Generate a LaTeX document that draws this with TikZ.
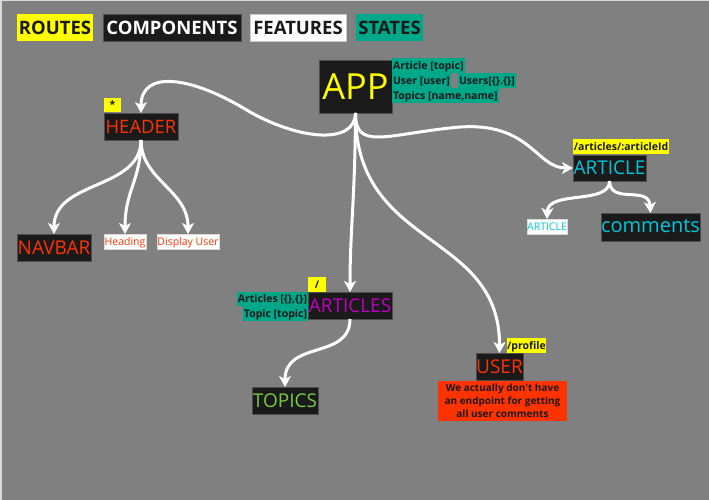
\documentclass[tikz,border=0pt]{standalone}
\usepackage{fontspec}
\setmainfont{Open Sans}
\usetikzlibrary{arrows.meta}
\definecolor{bgc}{HTML}{808080}
\definecolor{cbox}{HTML}{1A1A1A}
\definecolor{cedge}{HTML}{4D4D4D}
\definecolor{yel}{HTML}{FFFF00}
\definecolor{stteal}{HTML}{00A88A}
\definecolor{redt}{HTML}{FF3300}
\definecolor{cyant}{HTML}{00C8DC}
\definecolor{magt}{HTML}{C000C0}
\definecolor{grnt}{HTML}{7AC943}
\definecolor{darkt}{HTML}{1A1A1A}
\begin{document}
\begin{tikzpicture}[x=1pt,y=-1pt,
  bx/.style={anchor=north west, inner sep=0pt, outer sep=0pt},
  comp/.style={bx, fill=cbox, draw=cedge, line width=0.6pt},
  leg/.style={bx, minimum height=27pt, font=\fontsize{18.5}{20}\selectfont\bfseries, text height=13.2pt, text depth=0pt},
  big/.style={comp, font=\fontsize{19}{21}\selectfont, text height=13.6pt, text depth=0pt},
  small/.style={bx, fill=white, draw=black!15, line width=0.4pt, minimum height=15pt, font=\fontsize{10.5}{12}\selectfont, text height=7.5pt, text depth=0pt},
  state/.style={bx, fill=stteal, text=darkt, inner xsep=1pt, minimum height=15pt, font=\fontsize{10.5}{12}\selectfont\bfseries, text height=7.5pt, text depth=0pt},
  route/.style={bx, fill=yel, text=darkt, minimum height=15pt, font=\fontsize{10.5}{12}\selectfont\bfseries, text height=7.5pt, text depth=0pt},
  arr/.style={draw=white, line width=3pt, -{Stealth[length=11pt,width=12pt,inset=3pt]}}
]
% background
\fill[black!15] (0,0) rectangle (709,500);
\fill[bgc] (2,1) rectangle (709,500);

% legend
\node[leg, fill=yel, text=darkt, minimum width=76pt] (lroutes) at (17,14) {ROUTES};
\node[leg, fill=cbox, draw=cedge, line width=0.6pt, text=white, minimum width=138pt] (lcomp) at (103,14) {COMPONENTS};
\node[leg, fill=white, draw=black!20, line width=0.6pt, text=darkt, minimum width=96pt] (lfeat) at (250,14) {FEATURES};
\node[leg, fill=stteal, text=darkt, minimum width=67pt] (lstates) at (356,14) {STATES};

% APP
\node[comp, minimum width=73pt, minimum height=53pt, text=yel, font=\fontsize{36}{40}\selectfont, text height=25.7pt, text depth=0pt] (app) at (319,60) {APP};
\node[state] (s1) at (392,58) {Article [topic]};
\node[state] (s2) at (392,73) {User [user]};
\node[state] (s3) at (458,73) {Users[\{\}.\{\}]};
\node[state] (s4) at (392,88) {Topics [name,name]};

% HEADER
\node[route, minimum width=17pt, minimum height=14pt] (rstar) at (104,98) {*};
\node[big, minimum width=74pt, minimum height=27pt, text=redt, font=\fontsize{18.5}{21}\selectfont] (header) at (104,113) {HEADER};
\node[big, minimum width=74pt, minimum height=27pt, text=redt] (navbar) at (17,234) {NAVBAR};
\node[small, minimum width=42pt, text=redt] (heading) at (104,234) {Heading};
\node[small, minimum width=62pt, text=redt] (display) at (157,234) {Display User};

% ARTICLE
\node[route, minimum width=96pt] (rarticle) at (573,139) {/articles/:articleId};
\node[big, minimum width=73pt, minimum height=26pt, text=cyant] (article) at (573,155) {ARTICLE};
\node[small, minimum width=40pt, text=cyant] (articlesm) at (527,219) {ARTICLE};
\node[big, minimum width=96pt, minimum height=28pt, text=cyant, font=\fontsize{20}{22}\selectfont, text height=10.7pt] (comments) at (601,213) {comments};

% ARTICLES
\node[route, minimum width=18pt] (rslash) at (308,277) {/};
\node[big, minimum width=84pt, minimum height=27pt, text=magt] (articles) at (308,292) {ARTICLES};
\node[state, anchor=north east, minimum height=14pt] (s5) at (308,292) {Articles [\{\},\{\}]};
\node[state, anchor=north east] (s6) at (308,306) {Topic [topic]};
\node[big, minimum width=66pt, minimum height=27pt, text=grnt] (topics) at (252,387) {TOPICS};

% USER
\node[route, minimum width=39pt] (rprofile) at (507,338) {/profile};
\node[big, minimum width=47pt, minimum height=27pt, text=redt] (user) at (476,353) {USER};
\node[bx, fill=redt, text=darkt, minimum width=129pt, minimum height=40pt, align=center, font=\fontsize{10}{13}\selectfont\bfseries] (note) at (438,381) {We actually don\textquotesingle t have\\an endpoint for getting\\all user comments};

% connectors
\draw[arr] (app.south) .. controls (355,145) and (300,140) .. (250,112) .. controls (190,75) and (141,70) .. (header.north);
\draw[arr] (app.south) .. controls (355,150) and (385,135) .. (450,128) .. controls (530,118) and (535,168) .. (article.west);
\draw[arr] (app.south) .. controls (355,200) and (350,230) .. (articles.north);
\draw[arr] (app.south) .. controls (355,250) and (500,230) .. (user.north);
\draw[arr] (header.south) .. controls (141,190) and (54,180) .. (navbar.north);
\draw[arr] (header.south) .. controls (141,180) and (125,190) .. (heading.north);
\draw[arr] (header.south) .. controls (141,180) and (188,190) .. (display.north);
\draw[arr] (article.south) .. controls (610,205) and (548,190) .. (articlesm.north);
\draw[arr] (article.south) .. controls (610,205) and (649,185) .. (comments.north);
\draw[arr] (articles.south) .. controls (350,360) and (285,340) .. (topics.north);
\end{tikzpicture}
\end{document}
